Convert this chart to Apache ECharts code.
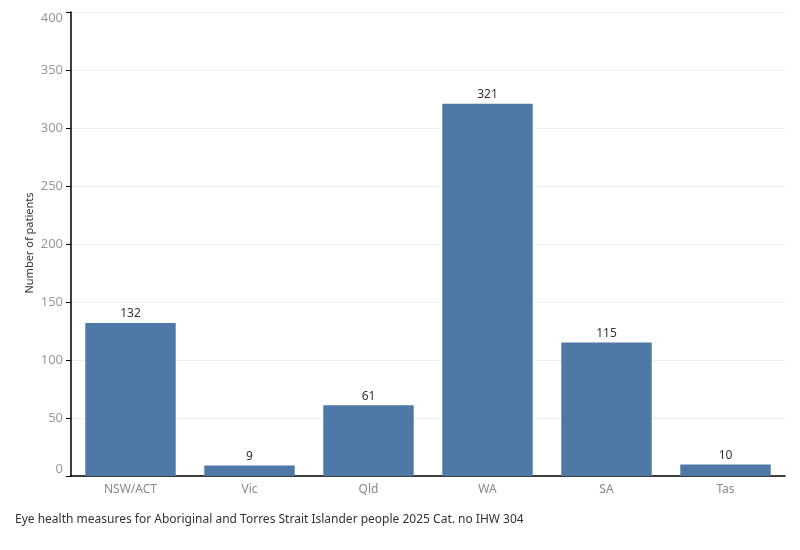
<!DOCTYPE html>
<html>
<head>
<meta charset="utf-8">
<script src="https://cdn.jsdelivr.net/npm/echarts@6/dist/echarts.min.js"></script>
<style>
  html, body { margin: 0; padding: 0; background: #fff; }
  #chart { width: 800px; height: 550px; }
</style>
</head>
<body>
<div id="chart"></div>
<script>
var states = ['NSW/ACT', 'Vic', 'Qld', 'WA', 'SA', 'Tas'];
var patients = [132, 9, 61, 321, 115, 10];

var FONT = '"Noto Sans", "Open Sans", sans-serif';

var chart = echarts.init(document.getElementById('chart'));

var option = {
  animation: false,
  textStyle: { fontFamily: FONT },
  grid: { left: 71, right: 15, top: 12, bottom: 74 },
  graphic: [{
    type: 'text',
    left: 15,
    top: 514,
    style: {
      text: 'Eye health measures for Aboriginal and Torres Strait Islander people 2025 Cat. no IHW 304',
      fill: '#333',
      font: '12px ' + FONT
    }
  }, {
    // y axis title, placed by hand to sit where the reference has it
    type: 'text',
    x: 30,
    y: 243,
    rotation: Math.PI / 2,
    style: {
      text: 'Number of patients',
      fill: '#333',
      font: '11px ' + FONT,
      align: 'center',
      verticalAlign: 'middle'
    }
  }],
  xAxis: {
    type: 'category',
    data: states,
    axisLine: { lineStyle: { color: '#000', width: 1.5 } },
    axisTick: { show: false },
    axisLabel: { color: '#888', fontSize: 12, margin: 8 }
  },
  yAxis: {
    type: 'value',
    min: 0,
    max: 400,
    interval: 50,
    axisLine: { show: true, lineStyle: { color: '#000', width: 1.5 } },
    axisTick: { show: true, length: 5, lineStyle: { color: '#000' } },
    axisLabel: {
      color: '#999', fontSize: 13, margin: 8,
      verticalAlignMinLabel: 'bottom', verticalAlignMaxLabel: 'top'
    },
    splitLine: { lineStyle: { color: '#f0f0f0' } }
  },
  series: [{
    type: 'bar',
    data: patients,
    barWidth: '76%',
    itemStyle: { color: '#4e79a7' },
    label: {
      show: true,
      position: 'top',
      distance: 3,
      color: '#333',
      fontSize: 12
    }
  }]
};

chart.setOption(option);
</script>
</body>
</html>
